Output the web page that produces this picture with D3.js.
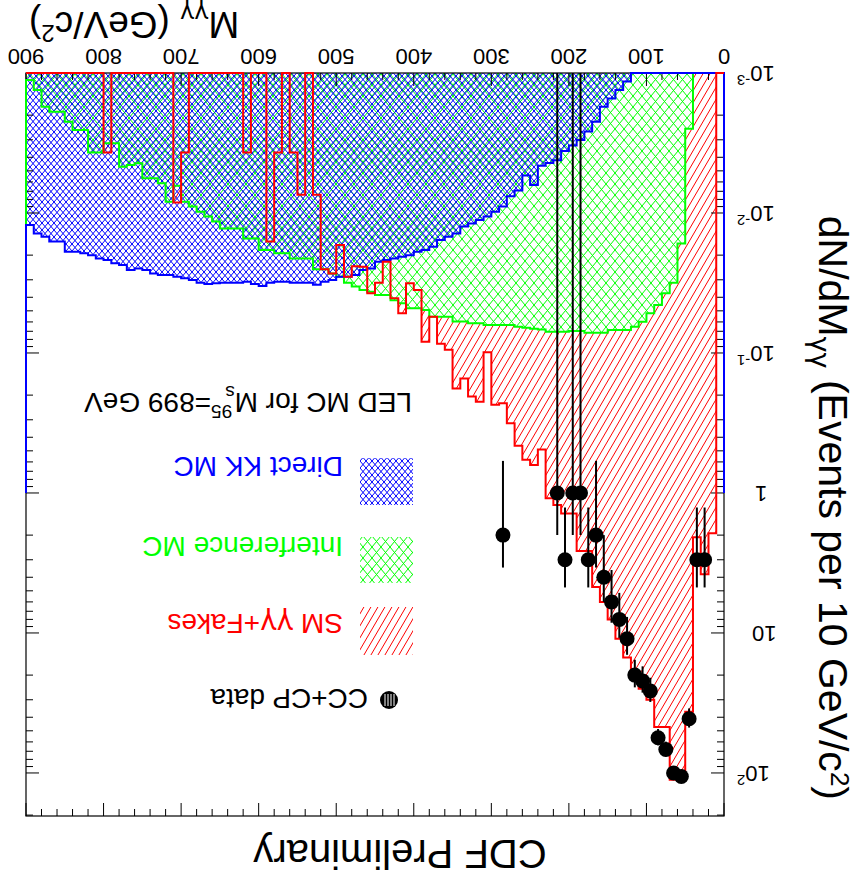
<!DOCTYPE html>
<html>
<head>
<meta charset="utf-8">
<script src="https://cdn.jsdelivr.net/npm/d3@7/dist/d3.min.js"></script>
<style>
  body { margin: 0; background: #fff; }
  svg { display: block; }
  text { font-family: "Liberation Sans", Arial, sans-serif; }
  .greek { font-family: "DejaVu Sans", sans-serif; }
</style>
</head>
<body>
<div id="chart"></div>
<script>
// 90 bins of 10 GeV, 0 .. 900 GeV
const binWidth = 10;

const smFakes = [
  0, 1.94, 3.8, 2.07, 36.5, 112, 112, 47, 47, 30,
  25, 20, 15, 11, 8, 6, 4.7, 2.6, 2.6, 1.4,
  1.4, 1.22, 1.09, 0.49, 0.63, 0.58, 0.46, 0.318, 0.229, 0.234,
  0.099, 0.223, 0.205, 0.152, 0.179, 0.095, 0.086, 0.055, 0.083, 0.0355,
  0.0318, 0.052, 0.0407, 0.0223, 0.0315, 0.0375, 0.0242, 0.024, 0.0285, 0.0169,
  0.027, 0.0252, 0.0074, 0, 0.0074, 0.0037, 0, 0.0037, 0.016, 0,
  0, 0.0037, 0, 0, 0, 0, 0, 0, 0, 0.0037,
  0.0084, 0, 0, 0, 0, 0, 0, 0, 0, 0.0037,
  0, 0, 0, 0, 0, 0, 0, 0, 0, 0
];

const interference = [
  0, 0, 0, 0, 0.0025, 0.0165, 0.0315, 0.0375, 0.0454, 0.052,
  0.0598, 0.0649, 0.0686, 0.0686, 0.0686, 0.0716, 0.0716, 0.0716, 0.0696, 0.0696,
  0.0705, 0.0705, 0.0705, 0.068, 0.067, 0.066, 0.065, 0.063, 0.063, 0.063,
  0.063, 0.0614, 0.0614, 0.0597, 0.0597, 0.055, 0.055, 0.055, 0.0493, 0.048,
  0.048, 0.0442, 0.042, 0.0385, 0.0385, 0.0365, 0.0355, 0.0335, 0.0315, 0.0285,
  0.027, 0.0252, 0.0252, 0.0211, 0.0211, 0.0211, 0.0194, 0.0194, 0.0184, 0.0184,
  0.0152, 0.0152, 0.0129, 0.0129, 0.0129, 0.0115, 0.0106, 0.0098, 0.009, 0.0083,
  0.0064, 0.0083, 0.00614, 0.00565, 0.00565, 0.00441, 0.00454, 0.00467, 0.00318, 0.00318,
  0.0037, 0.0037, 0.00255, 0.00255, 0.00223, 0.00189, 0.00189, 0.00174, 0.00132, 0.00112
];

const directKK = [
  0, 0, 0, 0, 0, 0, 0, 0, 0, 0,
  0, 0, 0.00115, 0.00132, 0.00152, 0.00174, 0.00223, 0.00262, 0.00301, 0.0033,
  0.0036, 0.0042, 0.0044, 0.0046, 0.0063, 0.0054, 0.0069, 0.0076, 0.009, 0.0098,
  0.0106, 0.0112, 0.0119, 0.0125, 0.014, 0.0148, 0.0156, 0.0174, 0.0184, 0.0189,
  0.02, 0.0205, 0.0211, 0.0217, 0.0223, 0.0249, 0.0255, 0.0277, 0.0285, 0.0285,
  0.0301, 0.031, 0.0325, 0.0315, 0.0315, 0.0315, 0.031, 0.031, 0.0315, 0.0332,
  0.0322, 0.031, 0.0315, 0.0315, 0.0315, 0.0318, 0.0322, 0.0315, 0.0301, 0.0293,
  0.0285, 0.0277, 0.0277, 0.027, 0.0255, 0.0249, 0.0255, 0.0235, 0.0229, 0.0217,
  0.0211, 0.02, 0.0194, 0.0189, 0.0189, 0.016, 0.016, 0.0148, 0.014, 0.0122
];

// CC+CP data points (bin centres)
const dataMass   = [25, 35, 45, 55, 65, 75, 85, 95, 105, 115, 125, 135, 145, 155, 165, 175, 185, 195, 205, 215, 285];
const dataCounts = [3, 3, 41, 106, 100, 68, 56, 26, 22, 20, 11, 8, 6, 4, 2, 3, 1, 1, 3, 1, 2];
const dataErr    = [1.73, 1.73, 6.4, 10.3, 10, 8.25, 7.48, 5.1, 4.69, 4.47, 3.32, 2.83, 2.45, 2, 1.41, 1.73, 1, 1, 1.73, 1, 1.41];

const xTickValues = [0, 100, 200, 300, 400, 500, 600, 700, 800, 900];
const yDecades = [-3, -2, -1, 0, 1, 2];

const W = 858, H = 888;
const plot = {left: 134, right: 832, top: 72, bottom: 815};
const yMin = 1e-3, yMax = 203;

const x = d3.scaleLinear().domain([0, 900]).range([plot.left, plot.right]);
const y = d3.scaleLog().domain([yMin, yMax]).range([plot.bottom, plot.top]);

function clampV(v) { return v <= yMin ? yMin : Math.min(v, yMax); }

const svg = d3.select("#chart").append("svg").attr("width", W).attr("height", H);
const defs = svg.append("defs");

// hatch patterns
const pRed = defs.append("pattern").attr("id", "hRed").attr("patternUnits", "userSpaceOnUse")
  .attr("width", 7).attr("height", 12);
pRed.append("path").attr("d", "M0,12L7,0M-1,1.7L1,-1.7M6,13.7L8,10.3")
  .attr("stroke", "#ff0000").attr("stroke-width", 1).attr("fill", "none");

const pGreen = defs.append("pattern").attr("id", "hGreen").attr("patternUnits", "userSpaceOnUse")
  .attr("width", 9).attr("height", 11);
pGreen.append("rect").attr("width", 9).attr("height", 11).attr("fill", "#fff");
pGreen.append("path").attr("d", "M0,0L9,11M9,0L0,11")
  .attr("stroke", "#00ff00").attr("stroke-width", 1).attr("fill", "none");

const pBlue = defs.append("pattern").attr("id", "hBlue").attr("patternUnits", "userSpaceOnUse")
  .attr("width", 6).attr("height", 7);
pBlue.append("path").attr("d", "M0,0L6,7M6,0L0,7")
  .attr("stroke", "#0000ff").attr("stroke-width", 1).attr("fill", "none");

// the reference is upside down: draw it the normal way and turn the whole group round
const g = svg.append("g").attr("transform", "rotate(180," + W / 2 + "," + H / 2 + ")");

function binPoints(vals) {
  const pts = vals.map(function(v, i) { return [i * binWidth, v]; });
  pts.push([vals.length * binWidth, vals[vals.length - 1]]);
  return pts;
}

const area = d3.area()
  .curve(d3.curveStepAfter)
  .x(function(d) { return x(d[0]); })
  .y0(y(yMin))
  .y1(function(d) { return y(clampV(d[1])); });

function outline(vals, base) {
  const pts = binPoints(vals).map(function(d) { return [x(d[0]), y(clampV(d[1]))]; });
  const step = d3.line().curve(d3.curveStepAfter)(pts);
  return "M" + x(0) + "," + y(base) + "L" + step.slice(1) + "L" + x(900) + "," + y(base);
}

g.append("path").attr("d", area(binPoints(smFakes))).attr("fill", "url(#hRed)");
g.append("path").attr("d", area(binPoints(interference))).attr("fill", "url(#hGreen)");
g.append("path").attr("d", area(binPoints(directKK))).attr("fill", "url(#hBlue)");

// frame and ticks
g.append("rect").attr("x", plot.left).attr("y", plot.top)
  .attr("width", plot.right - plot.left).attr("height", plot.bottom - plot.top)
  .attr("fill", "none").attr("stroke", "#000").attr("stroke-width", 1.2);

const ticks = g.append("g").attr("stroke", "#000").attr("stroke-width", 1);
d3.range(0, 901, 20).forEach(function(m) {
  const len = m % 100 === 0 ? 13 : 7;
  ticks.append("line").attr("x1", x(m)).attr("x2", x(m)).attr("y1", plot.bottom).attr("y2", plot.bottom - len);
  ticks.append("line").attr("x1", x(m)).attr("x2", x(m)).attr("y1", plot.top).attr("y2", plot.top + len);
});
yDecades.forEach(function(e) {
  for (let k = 1; k <= 9; k++) {
    const v = k * Math.pow(10, e);
    if (v < yMin || v > yMax) continue;
    const len = k === 1 ? 13 : 7;
    ticks.append("line").attr("x1", plot.left).attr("x2", plot.left + len).attr("y1", y(v)).attr("y2", y(v));
    ticks.append("line").attr("x1", plot.right).attr("x2", plot.right - len).attr("y1", y(v)).attr("y2", y(v));
  }
});

// outlines
g.append("path").attr("d", outline(interference, 1)).attr("fill", "none")
  .attr("stroke", "#00ff00").attr("stroke-width", 2);
g.append("path").attr("d", outline(directKK, 1)).attr("fill", "none")
  .attr("stroke", "#0000ff").attr("stroke-width", 2);
g.append("path").attr("d", outline(smFakes, yMin)).attr("fill", "none")
  .attr("stroke", "#ff0000").attr("stroke-width", 2);

// data with poisson error bars
const pts = g.append("g");
dataMass.forEach(function(m, i) {
  const lo = dataCounts[i] - dataErr[i];
  const hi = dataCounts[i] + dataErr[i];
  pts.append("line").attr("x1", x(m)).attr("x2", x(m))
    .attr("y1", lo > yMin ? y(lo) : plot.bottom).attr("y2", y(Math.min(hi, yMax)))
    .attr("stroke", "#000").attr("stroke-width", 2);
  pts.append("circle").attr("cx", x(m)).attr("cy", y(dataCounts[i])).attr("r", 7.5).attr("fill", "#000");
});

// axis labels
xTickValues.forEach(function(m) {
  g.append("text").attr("x", x(m)).attr("y", 839).attr("text-anchor", "middle")
    .attr("font-size", 22).text(m);
});
yDecades.forEach(function(e) {
  const t = g.append("text").attr("y", y(Math.pow(10, e)) + 7).attr("font-size", 22);
  if (e === 0) {
    t.attr("x", 103).attr("text-anchor", "end").text("1");
  } else if (e === 1) {
    t.attr("x", 106).attr("text-anchor", "end").text("10");
  } else {
    t.attr("x", 121).attr("text-anchor", "end");
    t.append("tspan").text("10");
    t.append("tspan").attr("dy", -9).attr("font-size", 15).text(e);
  }
});

const xt = g.append("text").attr("x", 829).attr("y", 876).attr("text-anchor", "end").attr("font-size", 37);
xt.append("tspan").text("M");
xt.append("tspan").attr("class", "greek").attr("dy", 7).attr("font-size", 24).text("γγ");
xt.append("tspan").attr("dy", -7).text(" (GeV/c");
xt.append("tspan").attr("dy", -13).attr("font-size", 24).text("2");
xt.append("tspan").attr("dy", 13).text(")");

const yt = g.append("text").attr("transform", "translate(39,88) rotate(-90)")
  .attr("text-anchor", "end").attr("font-size", 41);
yt.append("tspan").text("dN/dM");
yt.append("tspan").attr("class", "greek").attr("dy", 8).attr("font-size", 27).text("γγ");
yt.append("tspan").attr("dy", -8).text(" (Events per 10 GeV/c");
yt.append("tspan").attr("dy", -12).attr("font-size", 26).text("2");
yt.append("tspan").attr("dy", 12).text(")");

g.append("text").attr("x", 458).attr("y", 48).attr("text-anchor", "middle")
  .attr("font-size", 40).text("CDF Preliminary");

// legend
const lg = g.append("g").attr("font-size", 28);
const hdr = lg.append("text").attr("x", 446).attr("y", 495);
hdr.append("tspan").text("LED MC for M");
hdr.append("tspan").attr("dy", 7).attr("font-size", 19).text("s");
hdr.append("tspan").attr("dy", -19).attr("dx", -7).attr("font-size", 19).text("95");
hdr.append("tspan").attr("dy", 12).text("=899 GeV");

const boxes = [
  {fill: "url(#hBlue)", y0: 383, y1: 430, label: ["Direct KK MC"], color: "#0000ff", base: 431},
  {fill: "url(#hGreen)", y0: 305, y1: 351, label: ["Interference MC"], color: "#00ff00", base: 351},
  {fill: "url(#hRed)", y0: 233, y1: 281, label: ["SM ", "γγ", "+Fakes"], color: "#ff0000", base: 274}
];
boxes.forEach(function(b) {
  lg.append("rect").attr("x", 445).attr("y", b.y0).attr("width", 53).attr("height", b.y1 - b.y0)
    .attr("fill", b.fill);
  const t = lg.append("text").attr("x", 515).attr("y", b.base).attr("fill", b.color);
  b.label.forEach(function(s) {
    t.append("tspan").attr("class", s === "γγ" ? "greek" : null).text(s);
  });
});
lg.append("circle").attr("cx", 469).attr("cy", 188).attr("r", 9).attr("fill", "#000");
[-5, -2, 1, 4].forEach(function(dx) {
  lg.append("line").attr("x1", 469 + dx).attr("x2", 469 + dx).attr("y1", 182).attr("y2", 194)
    .attr("stroke", "#fff").attr("stroke-width", 1);
});
lg.append("text").attr("x", 490).attr("y", 199).text("CC+CP data");
</script>
</body>
</html>
